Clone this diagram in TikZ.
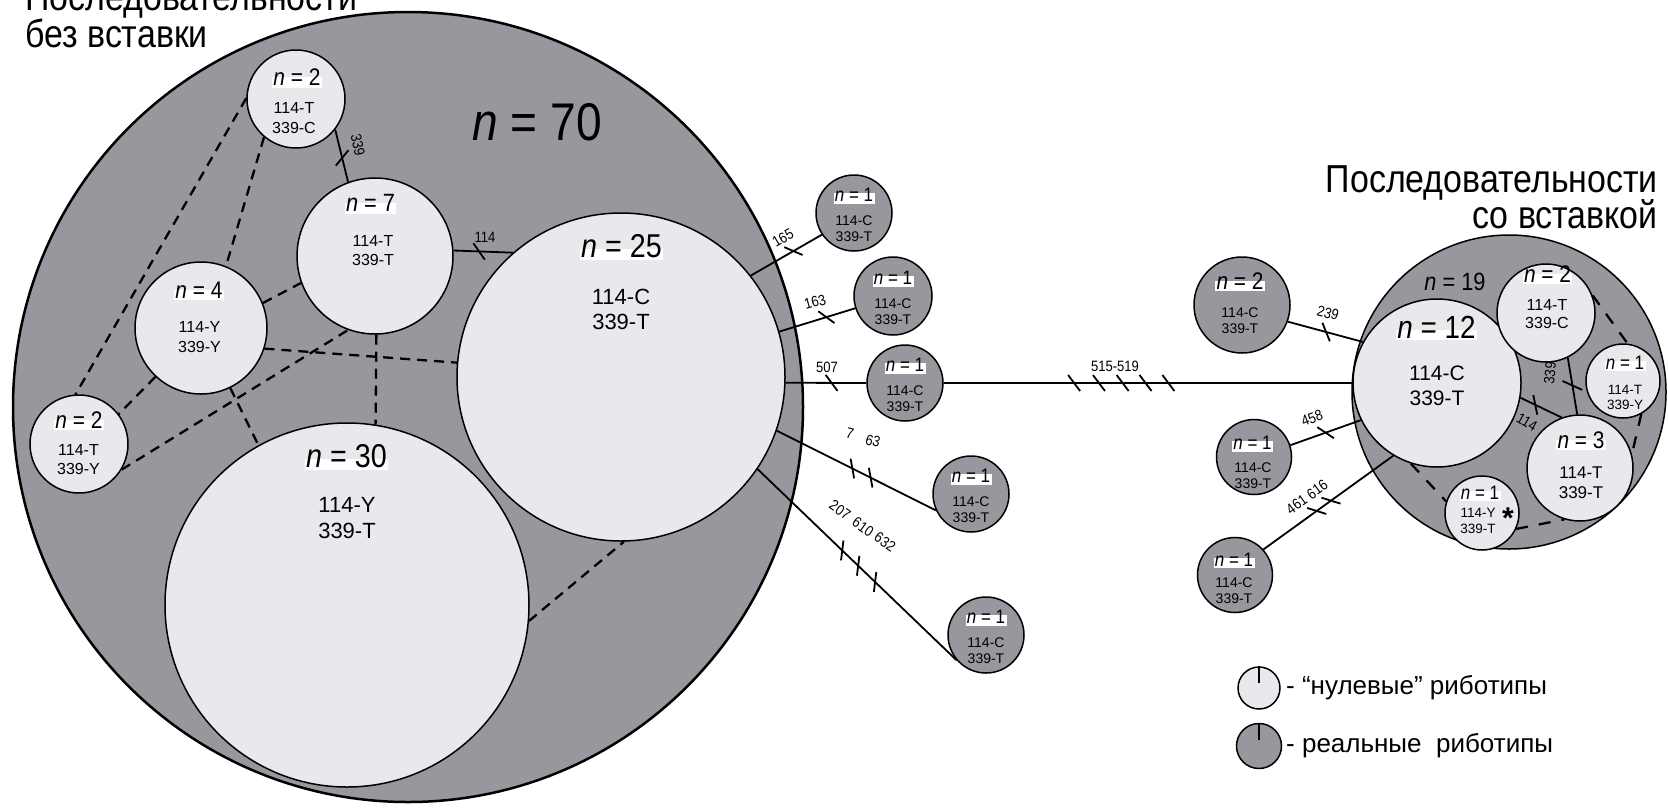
\documentclass[tikz,border=0pt]{standalone}
\usepackage{fontspec}
\setmainfont{Liberation Sans}
\newfontfamily\cond[FakeStretch=0.87]{Liberation Sans}
\usetikzlibrary{decorations.markings}
\definecolor{darkfill}{RGB}{153,150,157}
\definecolor{lightfill}{RGB}{232,233,236}
\newcommand\fsz[2]{\fontsize{#1}{#2}\selectfont}
\begin{document}
\begin{tikzpicture}[x=1pt,y=-1pt,
  darkc/.style={circle,draw,fill=darkfill,line width=1.5pt,inner sep=0pt},
  lightc/.style={circle,draw,fill=lightfill,line width=1.5pt,inner sep=0pt},
  lab/.style={fill=white,inner xsep=.14em,inner ysep=.12em,text height=.72em,text depth=.1em},
  gene/.style={align=center,inner sep=0pt},
  num/.style={font=\cond\fsz{15}{15},inner sep=0pt},
  title/.style={font=\cond\fsz{39}{39},inner sep=0pt},
  conn/.style={line width=1.8pt},
  dsh/.style={line width=2.3pt,dash pattern=on 10pt off 7pt},
  dshr/.style={line width=2.3pt,dash pattern=on 12pt off 11pt},
  tk/.style={postaction={decorate,decoration={markings,mark=at position #1 with {\draw[line width=1.8pt] (-6,-8) -- (6,8);}}}},
  tkb/.style={postaction={decorate,decoration={markings,mark=at position #1 with {\draw[line width=1.8pt] (-6,9) -- (6,-9);}}}}
]
\useasboundingbox (0,0) rectangle (1668,807);

% titles
\node[title,anchor=base west] (tl1) at (25,10) {Последовательности};
\node[title,anchor=base west] (tl2) at (25,47) {без вставки};
\node[title,anchor=base east] (tr1) at (1658,192) {Последовательности};
\node[title,anchor=base east] (tr2) at (1658,228) {со вставкой};

% left group
\node[darkc,line width=2.5pt,minimum size=790] (big) at (408,407) {};
\node[lightc,minimum size=328] (n25) at (621,377) {};
\node[lightc,minimum size=364] (n30) at (347,605) {};
\node[lightc,minimum size=156] (n7) at (375,256) {};
\node[lightc,minimum size=98] (n2a) at (296,99) {};
\node[lightc,minimum size=132] (n4) at (201,328) {};
\node[lightc,minimum size=98] (n2b) at (79,444) {};

\node[darkc,minimum size=76] (s1) at (854,213) {};
\node[darkc,minimum size=78] (s2) at (893,296) {};
\node[darkc,minimum size=76] (s3) at (905,383) {};
\node[darkc,minimum size=76] (s4) at (971,494) {};
\node[darkc,minimum size=76] (s5) at (986,635) {};

% right group
\node[darkc,minimum size=314] (g19) at (1509,392) {};
\node[lightc,minimum size=168] (n12) at (1437,383) {};
\node[lightc,minimum size=98] (r2) at (1546,313) {};
\node[lightc,minimum size=74] (r1a) at (1623,381) {};
\node[lightc,minimum size=106] (r3) at (1580,468) {};
\node[lightc,minimum size=74] (r1b) at (1482,513) {};
\node[darkc,minimum size=96] (o2) at (1242,305) {};
\node[darkc,minimum size=75] (o1a) at (1254,457) {};
\node[darkc,minimum size=75] (o1b) at (1235,575) {};

% legend
\node[lightc,minimum size=42] (L1) at (1259,688) {};
\node[darkc,minimum size=45] (L2) at (1259,746) {};
\draw[line width=1.2pt] (L1.north) -- ++(0,17);
\draw[line width=1.2pt] (L2.north) -- ++(0,17);
\node[anchor=west,inner sep=0pt,font=\fsz{26}{26}] (lt1) at (1286,688) {- “нулевые” риботипы};
\node[anchor=west,inner sep=0pt,font=\fsz{26}{26}] (lt2) at (1286,746) {- реальные\ \ риботипы};

% dashed links (left)
\draw[dsh] (n2a.179) -- (n2b.94);
\draw[dsh] (n2a.230) -- (n4.68);
\draw[dsh] (n4.227) -- (n2b.37);
\draw[dsh] (n2b.-31) -- (n7.250);
\draw[dsh] (n4.22) -- (n7.200);
\draw[dsh] (n4.-18) -- (n25.175);
\draw[dsh] (n7.-89) -- (n30.81);
\draw[dsh] (n4.-64) -- (n30.119);
\draw[dsh] (n30.-5) -- (n25.-89);
% dashed links (right)
\draw[dshr] (r2.21) -- (r1a.83);
\draw[dshr] (r1a.-61) -- (r3.15);
\draw[dshr] (n12.-108) -- (r1b.162);
\draw[dshr] (r1b.-25) -- (r3.253);

% solid links
\draw[conn,tk=0.54] (n2a.-38) -- (n7.110);
\draw[conn,tk=0.43] (n7.4) -- (n25.131);
\draw[conn,tk=0.6] (n25.38) -- (s1.214);
\draw[conn,tk=0.62] (n25.16) -- (s2.198);
\draw[conn,tk=0.57] (n25.-2) -- (s3.180);
\draw[conn,tk=.319,tk=.38,tk=.438,tk=.494,tk=.55] (s3.0) -- (n12.180);
\draw[conn,tk=.475,tk=.59] (n25.-19) -- (s4.205);
\draw[conn,tk=.425,tk=.505,tk=.59] (n25.-34) -- (s5.221);
\draw[conn,tk=.51] (o2.-20) -- (n12.151.5);
\draw[conn,tk=.5] (o1a.18) -- (n12.206);
\draw[conn,tk=.41,tk=.52] (o1b.42) -- (n12.239);
\draw[conn,tk=.36] (n12.-10) -- (r3.110);
\draw[conn,tkb=.49] (r2.-64) -- (r3.93);

% mutation labels
\node[num,rotate=-78] (l339a) at (358,145) {339};
\node[num] (l114a) at (485,237) {114};
\node[num,rotate=30] (l165) at (783,238) {165};
\node[num,rotate=15] (l163) at (815,302) {163};
\node[num] (l507) at (827,367) {507};
\node[num] (l515) at (1115,366) {515-519};
\node[num,rotate=-15] (l7) at (850,433) {7};
\node[num,rotate=-15] (l63) at (873,441) {63};
\node[num,rotate=-35] (l207) at (840,510) {207};
\node[num,rotate=-35] (l610) at (863,527) {610};
\node[num,rotate=-35] (l632) at (885,542) {632};
\node[num,rotate=-15] (l239) at (1328,313) {239};
\node[num,rotate=20] (l458) at (1312,418) {458};
\node[num,rotate=36] (l461) at (1307,497) {461 616};
\node[num,rotate=-30] (l114b) at (1527,422) {114};
\node[num,rotate=85] (l339b) at (1550,373) {339};

% circle texts (left)
\node[inner sep=0pt,font=\cond\fsz{53}{53}] (t70) at (537,122) {\textit{n} = 70};
\node[lab,font=\cond\fsz{33}{33}] (t25) at (621.5,254.5) {\textit{n} = 25};
\node[gene,font=\fsz{22}{25.5}] (g25) at (621,309.5) {114-C\\339-T};
\node[lab,font=\cond\fsz{33}{33}] (t30) at (346.5,464.5) {\textit{n} = 30};
\node[gene,font=\fsz{22}{26}] (g30) at (347,518) {114-Y\\339-T};
\node[lab,font=\cond\fsz{25}{25}] (t7) at (370.5,208.5) {\textit{n} = 7};
\node[gene,font=\fsz{16}{19}] (g7) at (373,251) {114-T\\339-T};
\node[lab,font=\cond\fsz{24}{24}] (t2a) at (297,82.5) {\textit{n} = 2};
\node[gene,font=\fsz{16}{19.5}] (g2a) at (294,118) {114-T\\339-C};
\node[lab,font=\cond\fsz{24}{24}] (t4) at (199,295) {\textit{n} = 4};
\node[gene,font=\fsz{16}{19.5}] (g4) at (199.5,337) {114-Y\\339-Y};
\node[lab,font=\cond\fsz{24}{24}] (t2b) at (79,425) {\textit{n} = 2};
\node[gene,font=\fsz{16}{19}] (g2b) at (78.5,459.5) {114-T\\339-Y};

\foreach \s in {s1,s2,s3,s4,s5}{
  \node[lab,font=\cond\fsz{19.5}{19.5}] (t\s) at ([yshift=14.5pt]\s.center) {\textit{n} = 1};
  \node[gene,font=\fsz{14}{16}] (g\s) at ([yshift=-15.5pt]\s.center) {114-C\\339-T};
}

% circle texts (right)
\node[inner sep=0pt,font=\cond\fsz{25}{25}] (t19) at (1455,282) {\textit{n} = 19};
\node[lab,font=\cond\fsz{32}{32}] (t12) at (1436.5,335) {\textit{n} = 12};
\node[gene,font=\fsz{21}{25}] (g12) at (1437,385.5) {114-C\\339-T};
\node[lab,font=\cond\fsz{24}{24}] (tr2x) at (1547.5,279) {\textit{n} = 2};
\node[gene,font=\fsz{16}{18.5}] (gr2) at (1547,314) {114-T\\339-C};
\node[lab,font=\cond\fsz{19.5}{19.5}] (tr1a) at (1625,366) {\textit{n} = 1};
\node[gene,font=\fsz{13.5}{15.5}] (gr1a) at (1625,397.5) {114-T\\339-Y};
\node[lab,font=\cond\fsz{24}{24}] (tr3) at (1581,445) {\textit{n} = 3};
\node[gene,font=\fsz{17}{19.5}] (gr3) at (1581,482.5) {114-T\\339-T};
\node[lab,font=\cond\fsz{19.5}{19.5}] (tr1b) at (1480,496) {\textit{n} = 1};
\node[gene,font=\fsz{13.5}{15.5}] (gr1b) at (1478,521) {114-Y\\339-T};
\node[inner sep=0pt,font=\fsz{30}{30}\bfseries] (star) at (1508,518) {*};
\node[lab,font=\cond\fsz{24}{24}] (to2) at (1240,286) {\textit{n} = 2};
\node[gene,font=\fsz{14}{16}] (go2) at (1240,321) {114-C\\339-T};
\node[lab,font=\cond\fsz{19.5}{19.5}] (to1a) at (1252.5,446.5) {\textit{n} = 1};
\node[gene,font=\fsz{14}{16}] (go1a) at (1253,475.5) {114-C\\339-T};
\node[lab,font=\cond\fsz{19.5}{19.5}] (to1b) at (1234,563) {\textit{n} = 1};
\node[gene,font=\fsz{14}{16}] (go1b) at (1234,591) {114-C\\339-T};
\end{tikzpicture}
\end{document}
